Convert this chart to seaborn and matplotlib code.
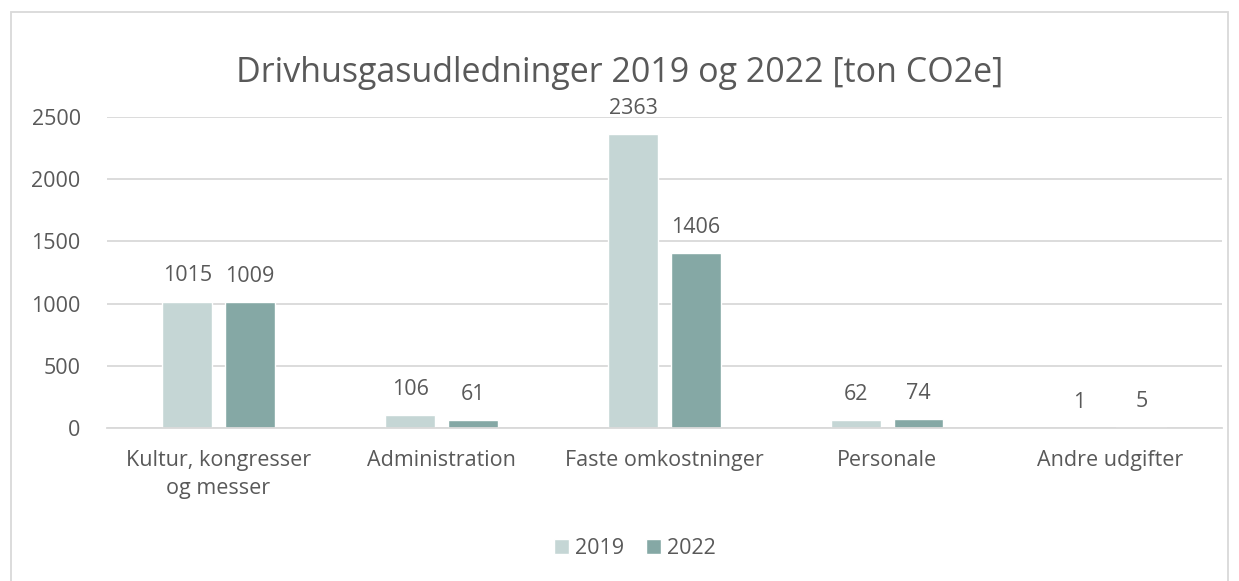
import pandas as pd
import matplotlib.pyplot as plt
import seaborn as sns

# Data
kategorier = ['Kultur, kongresser\nog messer', 'Administration', 'Faste omkostninger',
              'Personale', 'Andre udgifter']
udledning_2019 = [1015, 106, 2363, 62, 1]
udledning_2022 = [1009, 61, 1406, 74, 5]
aar = ['2019', '2022']

df = pd.DataFrame({
    'kategori': kategorier * 2,
    'aar': [aar[0]] * len(kategorier) + [aar[1]] * len(kategorier),
    'ton': udledning_2019 + udledning_2022,
})

farver = {'2019': '#C5D6D5', '2022': '#85A8A5'}
tekst = '#595959'

sns.set_style('white')
plt.rcParams['font.family'] = ['Open Sans', 'DejaVu Sans']

fig = plt.figure(figsize=(12.39, 5.81), dpi=100)
ax = fig.add_axes([0.0864, 0.2633, 0.8996, 0.5353])

sns.barplot(data=df, x='kategori', y='ton', hue='aar', palette=farver, ax=ax,
            width=0.56, gap=0.2, saturation=1, order=kategorier, hue_order=aar)

for c in ax.containers:
    ax.bar_label(c, fmt='%d', padding=11, fontsize=15.5, color=tekst)

ax.set_ylim(0, 2500)
ax.set_yticks([0, 500, 1000, 1500, 2000, 2500])
ax.yaxis.grid(True, color='#D9D9D9', linewidth=1.3)
ax.set_axisbelow(True)
for s in ['top', 'right', 'left']:
    ax.spines[s].set_visible(False)
ax.spines['bottom'].set_color('#D9D9D9')
ax.spines['bottom'].set_linewidth(1.3)
ax.tick_params(axis='both', length=0, labelsize=15.5, colors=tekst)
ax.tick_params(axis='x', pad=16)
ax.tick_params(axis='y', pad=19)
for t in ax.get_xticklabels():
    t.set_linespacing(1.45)
ax.set_xlabel('')
ax.set_ylabel('')

fig.suptitle('Drivhusgasudledninger 2019 og 2022 [ton CO2e]', y=0.875, va='center',
             fontsize=24.5, color=tekst)

ax.legend(title=None, loc='center', bbox_to_anchor=(0.4735, -0.386), ncol=2, frameon=False,
          fontsize=15.5, labelcolor=tekst, handlelength=0.7, handleheight=0.7,
          handletextpad=0.3, columnspacing=1.0)

# Ramme om diagrammet
fig.add_artist(plt.Rectangle((11 / 1239, -0.05), 1217 / 1239, 1.05 - 12 / 581,
                             transform=fig.transFigure, fill=False,
                             edgecolor='#D9D9D9', linewidth=1.3))

fig.savefig('out.png', dpi=100)
